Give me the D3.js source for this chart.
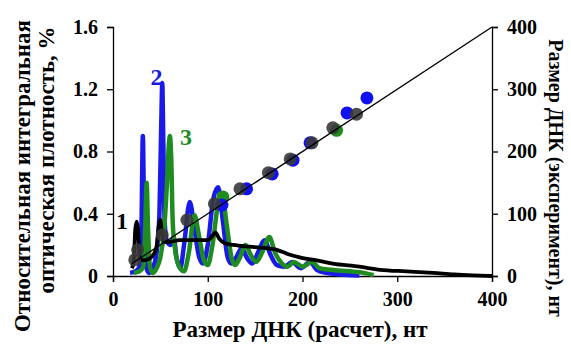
<!DOCTYPE html>
<html>
<head>
<meta charset="utf-8">
<script src="https://cdn.jsdelivr.net/npm/d3@7"></script>
<style>
  body { margin: 0; background: #fff; }
</style>
</head>
<body>
<svg id="chart" width="571" height="354"></svg>
<script>
// curve 1 (black), 2 (blue), 3 (green): [size nt, relative density %]
var curve1 = [[20,0.05],[22,0.1],[23.5,0.3],[25,0.35],[26.5,0.3],[28,0.12],[32,0.1],[38,0.11],[43,0.14],[46,0.19],[48.5,0.33],[50,0.36],[51.5,0.28],[54,0.22],[60,0.22],[70,0.23],[80,0.23],[92,0.23],[100,0.23],[104,0.25],[108,0.28],[112,0.24],[118,0.21],[127,0.2],[140,0.19],[160,0.18],[172,0.17],[185,0.14],[197,0.12],[215,0.1],[232,0.08],[260,0.06],[282,0.04],[310,0.03],[338,0.02],[360,0.01],[380,0.004],[400,0]];
var curve2 = [[18,0.02],[24,0.03],[28,0.06],[30,0.3],[31.5,0.9],[33,0.3],[35,0.06],[38,0.02],[42,0.05],[46,0.15],[49,0.4],[51,1.0],[52,1.24],[53,0.9],[54.5,0.35],[57,0.22],[61,0.2],[64,0.25],[67,0.12],[71,0.05],[75,0.2],[81,0.475],[86,0.3],[91,0.12],[95,0.08],[100,0.2],[106,0.5],[111,0.57],[116,0.35],[121,0.12],[125,0.08],[130,0.12],[136,0.18],[141,0.12],[147,0.08],[153,0.15],[160,0.23],[166,0.14],[173,0.07],[181,0.06],[189,0.09],[198,0.05],[208,0.09],[215,0.04],[225,0.02],[240,0.01],[260,0.003]];
var curve3 = [[22,0.02],[28,0.03],[32,0.06],[34,0.3],[35.5,0.6],[37,0.3],[39,0.06],[42,0.02],[46,0.05],[50,0.12],[54,0.3],[57,0.6],[59,0.85],[60,0.9],[61.5,0.75],[63,0.35],[66,0.15],[70,0.06],[75,0.03],[80,0.15],[86,0.39],[91,0.25],[96,0.1],[100,0.07],[105,0.2],[111,0.47],[115,0.53],[120,0.33],[125,0.12],[129,0.07],[134,0.12],[140,0.2],[145,0.14],[151,0.09],[158,0.16],[165,0.25],[171,0.15],[177,0.09],[184,0.06],[191,0.09],[200,0.06],[210,0.09],[218,0.05],[230,0.04],[250,0.03],[265,0.02],[275,0.005]];

// experimental vs calculated size: [calc nt, exp nt]
var points1 = [[23,26],[26,42],[52,66],[78,90],[107,116],[134,140],[164,166],[187,188],[210,214],[232,238],[257,260]];
var points2 = [[115,114],[141,140],[168,164],[190,186],[208,214],[247,262],[268,286]];
var points3 = [[116,127],[236,234]];
var diagonal = [[20,20],[400,400]];

var xTicks = [0, 100, 200, 300, 400];
var yTicks = [0, 0.4, 0.8, 1.2, 1.6];
var y2Ticks = [0, 100, 200, 300, 400];

var FONT = "'Liberation Serif', 'Times New Roman', Times, 'DejaVu Serif', serif";

var svg = d3.select("#chart"),
    margin = { top: 27, right: 79, bottom: 78, left: 113 },
    width = +svg.attr("width") - margin.left - margin.right,
    height = +svg.attr("height") - margin.top - margin.bottom;

var x = d3.scaleLinear().domain([0, 400]).range([0, width]),
    y = d3.scaleLinear().domain([0, 1.6]).range([height, 0]),
    y2 = d3.scaleLinear().domain([0, 400]).range([height, 0]);

var g = svg.append("g")
    .attr("transform", "translate(" + margin.left + "," + margin.top + ")");

function styleAxis(sel) {
    sel.attr("font-family", FONT).attr("font-size", 20).attr("font-weight", "bold");
    sel.selectAll("path, line").attr("stroke", "#000").attr("stroke-width", 1.3);
    sel.selectAll("text").attr("fill", "#000");
}

g.append("g")
    .attr("transform", "translate(0," + height + ")")
    .call(d3.axisBottom(x).tickValues(xTicks).tickSizeOuter(0).tickSize(6).tickPadding(10))
    .call(styleAxis);

g.append("g")
    .call(d3.axisLeft(y).tickValues(yTicks).tickFormat(function (d) { return d === 0 ? "0" : d3.format(".1f")(d); })
        .tickSizeOuter(0).tickSize(6).tickPadding(9))
    .call(styleAxis);

g.append("g")
    .attr("transform", "translate(" + width + ",0)")
    .call(d3.axisRight(y2).tickValues(y2Ticks).tickSizeOuter(0).tickSize(6).tickPadding(9))
    .call(styleAxis);

var line = d3.line()
    .x(function (d) { return x(d[0]); })
    .y(function (d) { return y(d[1]); })
    .curve(d3.curveMonotoneX);

g.append("path").datum(curve2)
    .attr("fill", "none").attr("stroke", "#1a1ae8").attr("stroke-width", 4.5).attr("d", line);
g.append("path").datum(curve3)
    .attr("fill", "none").attr("stroke", "#1e8c1e").attr("stroke-width", 4.5).attr("d", line);
g.append("path").datum(curve1)
    .attr("fill", "none").attr("stroke", "#000").attr("stroke-width", 3.8).attr("d", line);

function drawPoints(data, color, opacity) {
    g.append("g").selectAll("circle")
        .data(data)
        .enter().append("circle")
        .attr("cx", function (d) { return x(d[0]); })
        .attr("cy", function (d) { return y2(d[1]); })
        .attr("r", 6.5)
        .attr("fill", color)
        .attr("fill-opacity", opacity);
}
drawPoints(points3, "#1e8c1e", 1);
drawPoints(points2, "#1010f0", 1);
drawPoints(points1, "#3a3a3a", 0.9);

var diag = d3.line()
    .x(function (d) { return x(d[0]); })
    .y(function (d) { return y2(d[1]); });
g.append("path").datum(diagonal)
    .attr("fill", "none").attr("stroke", "#000").attr("stroke-width", 1.3).attr("d", diag);

function label(parent, size) {
    return parent.append("text").attr("font-family", FONT).attr("font-weight", "bold").attr("font-size", size);
}

// curve numbers
label(g, 24).attr("x", x(46)).attr("y", y(1.23)).attr("text-anchor", "middle")
    .attr("fill", "#1a1ae8").text("2");
label(g, 24).attr("x", x(77)).attr("y", y(0.84)).attr("text-anchor", "middle")
    .attr("fill", "#1e8c1e").text("3");
label(g, 24).attr("x", x(9.5)).attr("y", y(0.3)).attr("text-anchor", "middle")
    .attr("fill", "#000").text("1");

// axis titles
label(svg, 23).attr("x", 300).attr("y", 337).attr("text-anchor", "middle")
    .text("Размер ДНК (расчет), нт");

label(svg, 23).attr("transform", "translate(30,176) rotate(-90)").attr("text-anchor", "middle")
    .text("Относительная интегральная");
label(svg, 23).attr("transform", "translate(54,160) rotate(-90)").attr("text-anchor", "middle")
    .text("оптическая плотность, %");

label(svg, 20).attr("transform", "translate(549,178) rotate(90)").attr("text-anchor", "middle")
    .text("Размер ДНК (эксперимент), нт");
</script>
</body>
</html>
